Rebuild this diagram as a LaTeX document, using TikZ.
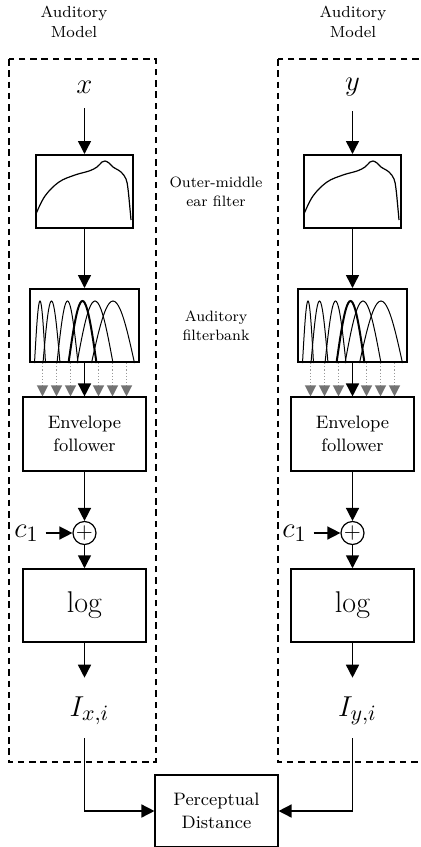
\documentclass[tikz,border=0pt]{standalone}
\usepackage{amsmath}
\usetikzlibrary{arrows.meta}

\begin{document}
\begin{tikzpicture}[x=0.5pt, y=-0.5pt,
        title/.style={align=center, font=\fontsize{8}{10}\selectfont},
        side/.style={align=center, font=\fontsize{7.5}{9.5}\selectfont},
        sig/.style={font=\fontsize{15}{18}\selectfont},
        filterbox/.style={draw, rectangle, line width=1pt, minimum height=36.5pt, inner sep=0pt},
        procbox/.style={draw, rectangle, line width=0.55pt, minimum width=61.5pt, minimum height=36.5pt, align=center, font=\fontsize{9}{11.5}\selectfont},
        adder/.style={draw, circle, line width=0.6pt, minimum size=11.5pt, inner sep=0pt},
        model/.style={draw, line width=0.7pt, dash pattern=on 3.25pt off 2.4pt},
        arr/.style={line width=0.75pt, -{Triangle[width=6.5pt,length=6.5pt]}},
        grayarr/.style={draw=black!40, line width=0.6pt, densely dotted, -{Triangle[width=5.5pt,length=5.5pt,color=black!55]}}]
    \useasboundingbox (0,0) rectangle (421,847);

    \node[title] (titlel) at (74, 22) {Auditory\\Model};
    \node[title] (titler) at (353, 22) {Auditory\\Model};
    \draw[model] (9, 59) rectangle (156, 762);
    \draw[model] (278, 59) rectangle (425, 762);
    \node[side] (omelabel) at (216, 192) {Outer-middle\\ear filter};
    \node[side] (fblabel) at (216, 326) {Auditory\\filterbank};
    \node[procbox, minimum height=36pt] (pd) at (216.5, 811) {Perceptual\\Distance};

    \foreach \col/\cx/\sg in {l/84.5/x, r/352.5/y} {
        \node[sig] (in\col) at (\cx, 87) {$\sg$};
        \node[filterbox, minimum width=48.5pt] (ome\col) at (\cx, 191.5) {};
        \node[filterbox, minimum width=54.5pt] (fb\col) at (\cx, 325.5) {};
        \node[procbox, minimum height=37pt] (env\col) at (\cx, 434) {Envelope\\follower};
        \node[sig] (c\col) at (\cx-58, 533) {$c_1$};
        \node[adder] (add\col) at (\cx, 533) {\fontsize{11}{11}\selectfont$+$};
        \node[procbox, line width=0.75pt, font=\fontsize{15}{18}\selectfont] (log\col) at (\cx, 605.5) {log};
        \node[sig] (I\col) at (\cx+5, 711) {$I_{\sg,i}$};

        \draw[line width=0.6pt, shift={(ome\col.north west)}] plot[smooth, tension=0.6] coordinates {(1,60) (10,42) (24,28) (40,21) (54,17) (62,13) (67,8) (70,7) (74,9) (78,13) (86,18) (91,25) (93,35) (95,55) (96,66)};
        \foreach \lc/\lw in {11/11, 22.5/17, 38.5/21, 66/36, 84/43}
            \draw[line width=0.5pt, shift={(fb\col.south west)}] plot[domain=0:180, samples=25, smooth] ({\lc-\lw/2+\lw*\x/180}, {-62*sin(\x)});
        \draw[line width=1pt, shift={(fb\col.south west)}] plot[domain=0:180, samples=25, smooth] ({39.5+28*\x/180}, {-62*sin(\x)});

        \foreach \dx in {-42, -28, -14, 14, 28, 42}
            \draw[grayarr] ([xshift=\dx*0.5pt]fb\col.south) -- ([xshift=\dx*0.5pt]fb\col.south |- env\col.north);
        \draw[arr] (fb\col) -- (env\col);
        \draw[arr, shorten <=4pt] (in\col) -- (ome\col);
        \draw[arr] (ome\col) -- (fb\col);
        \draw[arr] (env\col) -- (add\col);
        \draw[arr] (c\col) -- (add\col);
        \draw[arr] (add\col) -- (log\col);
        \draw[arr, shorten >=6pt] (log\col) -- (log\col.south |- I\col.north);
    }
    \draw[arr, shorten <=3pt] (Il.south -| logl.south) |- (pd);
    \draw[arr, shorten <=3pt] (Ir.south -| logr.south) |- (pd);
\end{tikzpicture}
\end{document}
